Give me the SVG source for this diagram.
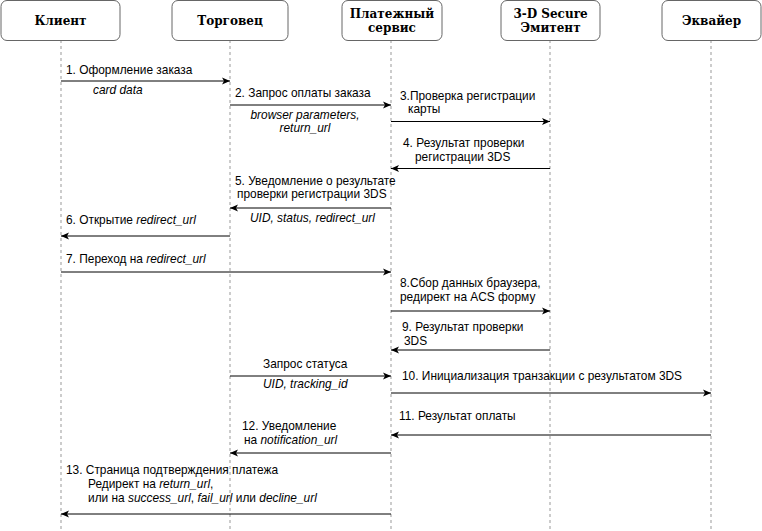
<svg xmlns="http://www.w3.org/2000/svg" width="762" height="531" viewBox="0 0 762 531">
<defs>
<style>
.box{fill:#fff;stroke:#666;stroke-width:1}
.hd{font-family:"DejaVu Serif",serif;font-weight:bold;font-size:12px;fill:#000;text-anchor:middle}
.life{stroke:#999;stroke-width:1;stroke-dasharray:3,3;fill:none}
.msg{stroke:#000;stroke-width:1;fill:none;marker-end:url(#ah)}
.t{font-family:"Liberation Sans",Arial,sans-serif;font-size:11.9px;fill:#000}
.i{font-style:italic}
</style>
<marker id="ah" viewBox="0 0 8 8" refX="8" refY="4" markerWidth="8" markerHeight="8" markerUnits="userSpaceOnUse" orient="auto">
<path d="M0,0.5 L8,4 L0,7.5 L2,4 z" fill="#000"/>
</marker>
</defs>
<rect width="762" height="531" fill="#fff"/>
<g id="lifelines">
<line class="life" x1="61" y1="40" x2="61" y2="531"/>
<line class="life" x1="230" y1="40" x2="230" y2="531"/>
<line class="life" x1="391" y1="40" x2="391" y2="531"/>
<line class="life" x1="550" y1="40" x2="550" y2="531"/>
<line class="life" x1="711" y1="40" x2="711" y2="531"/>
</g>
<g id="client"><rect class="box" x="1" y="0.5" width="119" height="40" rx="6"/><text class="hd" x="60.5" y="24.5">Клиент</text></g>
<g id="merchant"><rect class="box" x="172" y="0.5" width="116" height="40" rx="6"/><text class="hd" x="230" y="24.5">Торговец</text></g>
<g id="payservice"><rect class="box" x="342" y="0.5" width="100" height="40" rx="6"/><text class="hd" x="392" y="18">Платежный</text><text class="hd" x="392" y="32">сервис</text></g>
<g id="issuer"><rect class="box" x="501" y="0.5" width="99" height="40" rx="6"/><text class="hd" x="550.5" y="18">3-D Secure</text><text class="hd" x="550.5" y="32">Эмитент</text></g>
<g id="acquirer"><rect class="box" x="662" y="0.5" width="99" height="40" rx="6"/><text class="hd" x="711.5" y="24.5">Эквайер</text></g>
<g id="connectors">
<line class="msg" x1="61" y1="81" x2="230" y2="81"/>
<line class="msg" x1="230" y1="105" x2="391" y2="105"/>
<line class="msg" x1="391" y1="121.5" x2="550" y2="121.5"/>
<line class="msg" x1="550" y1="168.5" x2="391" y2="168.5"/>
<line class="msg" x1="391" y1="208" x2="230" y2="208"/>
<line class="msg" x1="230" y1="236" x2="61" y2="236"/>
<line class="msg" x1="61" y1="272" x2="391" y2="272"/>
<line class="msg" x1="391" y1="311" x2="550" y2="311"/>
<line class="msg" x1="550" y1="350" x2="391" y2="350"/>
<line class="msg" x1="230" y1="376" x2="391" y2="376"/>
<line class="msg" x1="391" y1="393" x2="711" y2="393"/>
<line class="msg" x1="711" y1="435" x2="391" y2="435"/>
<line class="msg" x1="391" y1="453" x2="230" y2="453"/>
<line class="msg" x1="391" y1="514" x2="61" y2="514"/>
</g>
<g id="labels">
<text class="t" x="66" y="74">1. Оформление заказа</text>
<text class="t i" x="93" y="94">card data</text>
<text class="t" x="235" y="97">2. Запрос оплаты заказа</text>
<text class="t i" x="305" y="118.5" text-anchor="middle">browser parameters,</text>
<text class="t i" x="305" y="131.5" text-anchor="middle">return_url</text>
<text class="t" x="400" y="100">3.Проверка регистрации</text>
<text class="t" x="408" y="113">карты</text>
<text class="t" x="403" y="147">4. Результат проверки</text>
<text class="t" x="415" y="161">регистрации 3DS</text>
<text class="t" x="235" y="185">5. Уведомление о результате</text>
<text class="t" x="237" y="198">проверки регистрации 3DS</text>
<text class="t i" x="250" y="222">UID, status, redirect_url</text>
<text class="t" x="66" y="224">6. Открытие <tspan class="i">redirect_url</tspan></text>
<text class="t" x="66" y="263">7. Переход на <tspan class="i">redirect_url</tspan></text>
<text class="t" x="400" y="287">8.Сбор данных браузера,</text>
<text class="t" x="400" y="301">редирект на ACS форму</text>
<text class="t" x="402" y="331">9. Результат проверки</text>
<text class="t" x="404" y="345">3DS</text>
<text class="t" x="263" y="368">Запрос статуса</text>
<text class="t i" x="263" y="388">UID, tracking_id</text>
<text class="t" x="402" y="380">10. Инициализация транзакции с результатом 3DS</text>
<text class="t" x="399" y="420">11. Результат оплаты</text>
<text class="t" x="242" y="430">12. Уведомление</text>
<text class="t" x="244" y="444">на <tspan class="i">notification_url</tspan></text>
<text class="t" x="66" y="474">13. Страница подтверждения платежа</text>
<text class="t" x="88" y="488">Редирект на <tspan class="i">return_url</tspan>,</text>
<text class="t" x="88" y="502">или на <tspan class="i">success_url</tspan>, <tspan class="i">fail_url</tspan> или <tspan class="i">decline_url</tspan></text>
</g>
</svg>
